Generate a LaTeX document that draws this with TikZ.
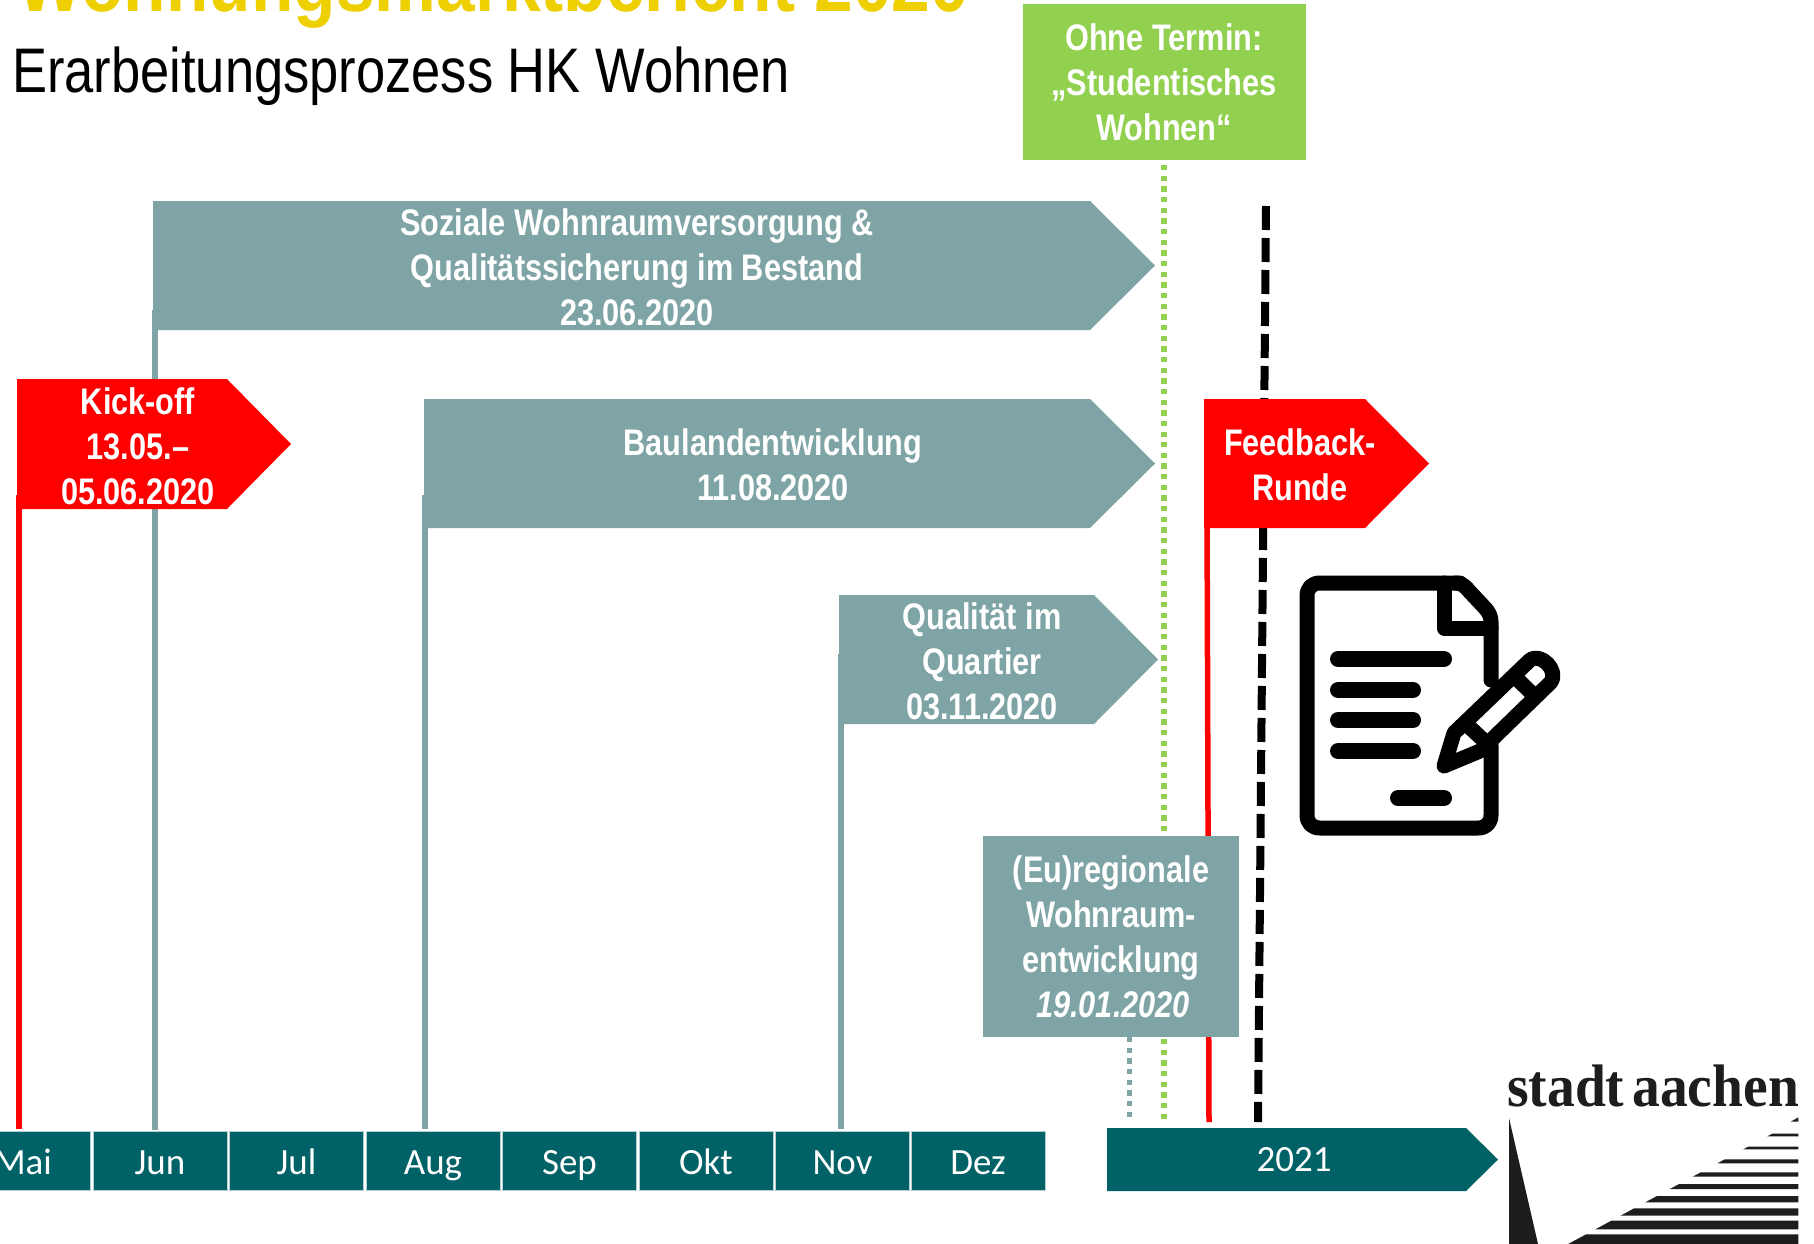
\documentclass[tikz,border=0pt]{standalone}
\usepackage{fontspec}
\setmainfont{Liberation Sans}
\newfontfamily\lblf[FakeStretch=0.83]{Liberation Sans}
\newfontfamily\subf[FakeStretch=0.833]{Liberation Sans}
\newfontfamily\titlef[FakeStretch=0.868]{Liberation Sans}
\newfontfamily\monthf{Carlito}
\newfontfamily\logof[FakeStretch=0.925]{Liberation Serif}
\definecolor{greyteal}{HTML}{7FA4A6}
\definecolor{darkteal}{HTML}{006266}
\definecolor{limeg}{HTML}{92D050}
\definecolor{titley}{HTML}{EECF00}
\definecolor{logok}{HTML}{1D1D1B}
\tikzset{
  lbl/.style={text=white,font=\lblf\bfseries\fontsize{37}{45}\selectfont,align=center,inner sep=0pt},
  monthbox/.style={fill=darkteal,draw=white!70!darkteal,line width=1pt,minimum width=134pt,minimum height=59pt,inner sep=0pt,text height=30pt,text depth=2pt,text=white,font=\monthf\fontsize{37}{40}\selectfont},
  tealline/.style={draw=greyteal,line width=5.5pt},
  redline/.style={draw=red,line width=5.5pt},
  dots/.style={line width=5.3pt,dash pattern=on 5.33pt off 5.33pt},
  blackdash/.style={draw=black,line width=8pt,dash pattern=on 24pt off 8pt},
  ink/.style={draw=black,line width=15pt,line cap=round,line join=round}
}
\begin{document}
\begin{tikzpicture}[x=1pt,y=-1pt]
\useasboundingbox (0,0) rectangle (1814,1244);
\clip (0,0) rectangle (1814,1244);
\fill[white] (0,0) rectangle (1814,1244);

% titles
\node[anchor=base west,inner sep=0pt,text=titley,font=\titlef\bfseries\fontsize{80}{80}\selectfont] (title) at (17,12) {Wohnungsmarktbericht 2020};
\node[anchor=base west,inner sep=0pt,text=black,font=\subf\fontsize{63}{70}\selectfont] (sub) at (12,93) {Erarbeitungsprozess HK Wohnen};

% month bar
\node[monthbox] (mai) at (23,1160.5) {Mai};
\node[monthbox] (jun) at (160,1160.5) {Jun};
\node[monthbox] (jul) at (296.5,1160.5) {Jul};
\node[monthbox] (aug) at (433,1160.5) {Aug};
\node[monthbox] (sep) at (569.5,1160.5) {Sep};
\node[monthbox] (okt) at (706,1160.5) {Okt};
\node[monthbox] (nov) at (842.5,1160.5) {Nov};
\node[monthbox] (dez) at (978,1160.5) {Dez};
\fill[darkteal] (1107,1128) -- (1466,1128) -- (1498,1159.5) -- (1466,1191) -- (1107,1191) -- cycle;
\node[inner sep=0pt,text=white,font=\monthf\fontsize{37}{40}\selectfont] (y2021) at (1294,1160) {2021};

% connector anchors
\coordinate (cKick) at (19,495);
\coordinate (cSoz) at (155,310);
\coordinate (cBau) at (425,495);
\coordinate (cQual) at (841,654);
\coordinate (cFeedT) at (1207,509);
\coordinate (cFeedB) at (1209,1122);
\coordinate (cEuT) at (1129.5,1037);
\coordinate (cEuB) at (1129.5,1122);
\coordinate (cGrT) at (1164,165);
\coordinate (cGrB) at (1164,1122);
\coordinate (cBlT) at (1266,206);
\coordinate (cBlB) at (1258,1122);

% connectors
\draw[redline,shorten >=2pt] (cKick) -- (cKick |- mai.north);
\draw[tealline,shorten >=1pt] (cSoz) -- (cSoz |- jun.north);
\draw[tealline,shorten >=2pt] (cBau) -- (cBau |- aug.north);
\draw[tealline,shorten >=2pt] (cQual) -- (cQual |- nov.north);
\draw[dots,draw=greyteal] (cEuT) -- (cEuB);
\draw[dots,draw=limeg] (cGrT) -- (cGrB);
\draw[redline] (cFeedT) -- (cFeedB);
\draw[blackdash] (cBlT) -- (cBlB);

% pentagons
\fill[greyteal] (153,201) -- (1090,201) -- (1155,265.5) -- (1090,330) -- (153,330) -- cycle;
\fill[greyteal] (424,399) -- (1090,399) -- (1155,463.5) -- (1090,528) -- (424,528) -- cycle;
\fill[greyteal] (839,595) -- (1094,595) -- (1158,659.5) -- (1094,724) -- (839,724) -- cycle;
\fill[red] (17,379) -- (227,379) -- (291,444) -- (227,509) -- (17,509) -- cycle;
\fill[red] (1204,399) -- (1365,399) -- (1429,463.5) -- (1365,528) -- (1204,528) -- cycle;

% boxes with text
\node[fill=limeg,minimum width=283pt,minimum height=156pt,inner sep=0pt] (green) at (1164.5,82) {};
\node[fill=greyteal,minimum width=256pt,minimum height=201pt,inner sep=0pt] (eu) at (1111,936.5) {};

\node[lbl] (tsoz) at (637,267) {Soziale Wohnraumversorgung \&\\Qualitätssicherung im Bestand\\23.06.2020};
\node[lbl] (tkick) at (138,446) {Kick-off\\13.05.–\\05.06.2020};
\node[lbl] (tbau) at (773,464.5) {Baulandentwicklung\\11.08.2020};
\node[lbl] (tqual) at (982,661.5) {Qualität im\\Quartier\\03.11.2020};
\node[lbl] (tfeed) at (1300,464.5) {Feedback-\\Runde};
\node[lbl] (tgreen) at (1164,82) {Ohne Termin:\\„Studentisches\\Wohnen“};
\node[lbl] (teu) at (1111,936.5) {(Eu)regionale\\Wohnraum-\\entwicklung\\{\itshape\hspace{4pt}19.01.2020}};

% document icon
\draw[ink] (1460,583) -- (1320,583) .. controls (1312,583) and (1307,588) .. (1307,596)
  -- (1307,815) .. controls (1307,823) and (1312,828) .. (1320,828)
  -- (1478,828) .. controls (1486,828) and (1491,823) .. (1491,815) -- (1491,745);
\draw[ink] (1491,680) -- (1491,622) .. controls (1491,617) and (1489,612) .. (1485,608)
  -- (1470,592) .. controls (1466,587) and (1462,583) .. (1456,583);
\draw[ink] (1444,583) -- (1444,628) -- (1491,628);
\draw[ink,line width=16pt] (1338,659) -- (1444,659);
\draw[ink,line width=16pt] (1338,690) -- (1413,690);
\draw[ink,line width=16pt] (1338,720) -- (1413,720);
\draw[ink,line width=16pt] (1338,751) -- (1413,751);
\draw[ink,line width=16pt] (1398,798) -- (1444,798);
\draw[ink,fill=white] (1444,766) -- (1454,733) -- (1529.3,660.7)
  .. controls (1540,651) and (1560,671) .. (1550.3,682.7) -- (1480,751) -- cycle;
\draw[ink,line cap=butt] (1468.3,726) -- (1483.3,740);
\draw[ink,line cap=butt] (1518.3,680) -- (1531.7,693.3);

% logo
\node[anchor=base west,inner sep=0pt,text=logok,font=\logof\bfseries\fontsize{60}{60}\selectfont] (logo) at (1507,1106) {stadt\hspace{8pt}aachen};
\fill[logok] (1509,1118) -- (1538,1244) -- (1509,1244) -- cycle;
\begin{scope}[shift={(1480,1040)},x=0.33333pt,y=-0.33333pt]
\fill[logok] (932,245) -- (955,232) -- (955,245) -- cycle;
\foreach \t/\b in {281/289,320/328,358/370,397/410,432/447,468/487,505/527,542/568,583/612}{
  \pgfmathsetmacro{\ut}{862-1.85*(\t-289)}
  \pgfmathsetmacro{\ub}{862-1.85*(\b-289)}
  \fill[logok] (\ut,\t) -- (955,\t) -- (955,\b) -- (\ub,\b) -- cycle;
}
\end{scope}
\end{tikzpicture}
\end{document}
